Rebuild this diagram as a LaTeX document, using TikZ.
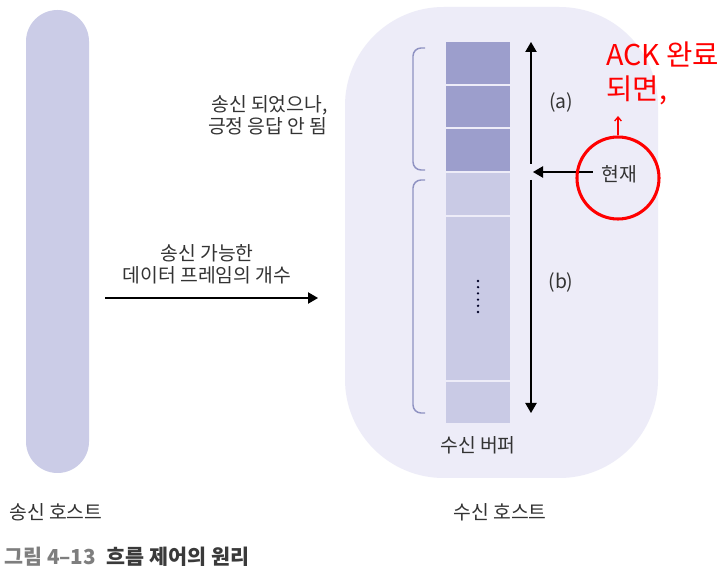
\documentclass[tikz,border=0pt]{standalone}
\usepackage{fontspec}
\setmainfont{Noto Sans CJK KR}
\usetikzlibrary{arrows.meta}
\definecolor{recvbg}{HTML}{EDECF8}
\definecolor{pillc}{HTML}{CBCCE7}
\definecolor{darkcell}{HTML}{9C9ECC}
\definecolor{lightcell}{HTML}{C9CAE5}
\definecolor{brk}{HTML}{8F92C2}
\definecolor{txt}{HTML}{333333}
\definecolor{capgray}{HTML}{7E7E7E}
\definecolor{capdark}{HTML}{3A3A3A}
\definecolor{redc}{HTML}{FF0000}
\tikzset{
  lbl/.style={text=txt, font=\fontsize{14.5}{16.5}\selectfont, inner sep=0pt},
  cell/.style={inner sep=0pt, outer sep=0pt, minimum width=48pt},
  blackarrow/.style={draw=black, line width=0.9pt, -{Triangle[length=7.5pt,width=8.5pt]}},
  bracketline/.style={draw=brk, line width=1.1pt, rounded corners=6pt},
  redtxt/.style={text=redc, font=\fontsize{21.5}{25}\selectfont, inner sep=0pt},
}
\begin{document}
\begin{tikzpicture}[x=0.75pt,y=-0.75pt]
\useasboundingbox (0,0) rectangle (726,574);
\fill[white] (0,0) rectangle (726,574);
% hosts
\node[fill=pillc, rounded corners=23.6pt, minimum width=47.25pt, minimum height=347.25pt, inner sep=0pt] (sender) at (57.5,241.5) {};
\node[fill=recvbg, rounded corners=74pt, minimum width=234.75pt, minimum height=353.25pt, inner sep=0pt] (receiver) at (501.5,242.5) {};
% buffer cells
\node[cell, fill=darkcell, minimum height=31.5pt] (c1) at (478,63) {};
\node[cell, fill=darkcell, minimum height=30.75pt] (c2) at (478,106.5) {};
\node[cell, fill=darkcell, minimum height=31.5pt] (c3) at (478,150) {};
\node[cell, fill=lightcell, minimum height=31.5pt] (c4) at (478,194) {};
\node[cell, fill=lightcell, minimum height=122.25pt] (c5) at (478,298.5) {};
\node[cell, fill=lightcell, minimum height=30.75pt] (c6) at (478,402.5) {};
\foreach \i in {0,...,5} {\fill[black!75!blue!60!black] (478,{281+6.2*\i}) circle (1.3);}
% brackets
\coordinate (b1t) at (425,48); \coordinate (b1b) at (425,170);
\coordinate (b2t) at (425,180); \coordinate (b2b) at (425,413);
\draw[bracketline] (b1t) -- (413,48) -- (413,170) -- (b1b);
\draw[bracketline] (b2t) -- (413,180) -- (413,413) -- (b2b);
% vertical arrows
\coordinate (atop) at (531,42); \coordinate (amid1) at (531,164);
\coordinate (amid2) at (531,180); \coordinate (abot) at (531,413);
\draw[blackarrow] (amid1) -- (atop);
\draw[blackarrow] (amid2) -- (abot);
\node[lbl] (la) at (561,102) {(a)};
\node[lbl] (lb) at (561,282) {(b)};
% current
\node[lbl, inner sep=6pt] (now) at (619,174) {현재};
\coordinate (nowtip) at (533,172);
\draw[blackarrow] (now.west |- nowtip) -- (nowtip);
% red annotation
\node[draw=redc, line width=2.3pt, circle, minimum size=61.5pt, inner sep=0pt] (circ) at (618,178) {};
\coordinate (redtip) at (618,116);
\draw[draw=redc, line width=1pt, -{Straight Barb[length=3pt,width=5pt]}] (circ.north) -- (redtip);
\node[redtxt, anchor=north west, align=left] (ack) at (606,42) {ACK 완료\\되면,};
% left labels
\node[lbl, align=right, anchor=east] (sentlbl) at (328,115) {송신 되었으나,\\긍정 응답 안 됨};
\node[lbl, align=center] (winlbl) at (207,264) {송신 가능한\\데이터 프레임의 개수};
\coordinate (w1) at (105,298); \coordinate (w2) at (318,298);
\draw[blackarrow] (w1) -- (w2);
\node[lbl] (buf) at (478,445) {수신 버퍼};
\node[lbl, anchor=west] (sname) at (9,512) {송신 호스트};
\node[lbl] (rname) at (500,512) {수신 호스트};
\node[lbl, anchor=west, font=\fontsize{15.5}{16}\selectfont\bfseries] (cap) at (4,557) {\textcolor{capgray}{그림 4–13}\hspace{8pt}\textcolor{capdark}{흐름 제어의 원리}};
\end{tikzpicture}
\end{document}
